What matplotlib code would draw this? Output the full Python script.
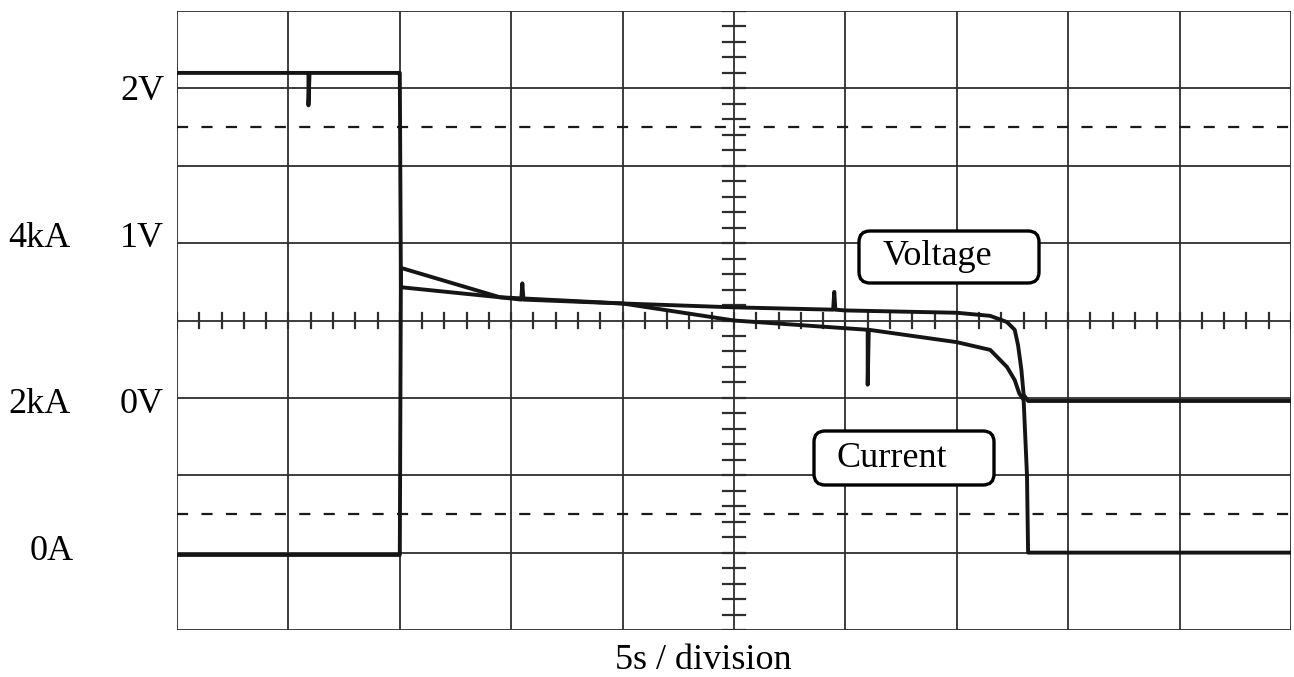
import matplotlib
matplotlib.use("Agg")
import matplotlib.pyplot as plt
from matplotlib.patches import FancyBboxPatch
from matplotlib.transforms import IdentityTransform

# scope settings: 5 s/div, 0.5 V/div (0 V at div 3), 1 kA/div (0 A at div 1)
sec_per_div = 5.0
volt_per_div = 0.5
volt_zero_div = 3.0
ka_per_div = 1.0
amp_zero_div = 1.0

# voltage trace (s, V)
voltage_t = [0.0, 5.85, 5.9, 5.9, 5.95, 9.95, 10.0, 10.05, 14.5, 20.0, 25.0, 29.45, 29.5,
             29.55, 30.0, 35.0, 36.5, 37.25, 37.6, 37.75, 37.9, 38.0, 38.2, 50.0]
voltage_v = [2.10, 2.10, 2.10, 1.89, 2.10, 2.10, 2.10, 0.715, 0.65, 0.61, 0.585, 0.57, 0.685,
             0.57, 0.565, 0.55, 0.53, 0.49, 0.44, 0.34, 0.18, 0.02, -0.02, -0.02]

# current trace (s, kA)
current_t = [0.0, 9.95, 10.0, 10.05, 14.5, 15.45, 15.5, 15.55, 20.0, 25.0, 30.0, 31.0, 31.0,
             31.05, 35.0, 36.5, 37.25, 37.6, 37.8, 38.0, 38.15, 38.2, 50.0]
current_ka = [-0.03, -0.03, -0.03, 3.68, 3.30, 3.27, 3.48, 3.27, 3.22, 3.00, 2.90, 2.88, 2.17,
              2.88, 2.72, 2.62, 2.40, 2.23, 2.06, 1.97, 1.0, 0.0, 0.0]

volt_labels = ["2V", "1V", "0V"]
amp_labels = ["4kA", "2kA", "0A"]

W, H = 1294, 677
fig = plt.figure(figsize=(W / 100, H / 100), dpi=100)
ax = fig.add_axes([177 / W, (H - 630) / H, (1291 - 177) / W, (630 - 11) / H])
ax.set_xlim(0, 10)
ax.set_ylim(0, 8)
ax.axis("off")

grid_col = "#2e2e2e"
for i in range(11):
    ax.axvline(i, color=grid_col, lw=1.3, zorder=1)
for j in range(9):
    ax.axhline(j, color=grid_col, lw=1.3, zorder=1)
# minor ticks on the centre lines
for k in range(51):
    ax.plot([k * 0.2, k * 0.2], [3.9, 4.1], color=grid_col, lw=1.6, zorder=1)
for k in range(41):
    ax.plot([4.9, 5.1], [k * 0.2, k * 0.2], color=grid_col, lw=1.6, zorder=1)
# dashed reference lines
for yd in (1.5, 6.5):
    ax.axhline(yd, color="#1a1a1a", lw=1.6, ls=(0, (5, 6)), zorder=1)

vx = [t / sec_per_div for t in voltage_t]
vy = [volt_zero_div + v / volt_per_div for v in voltage_v]
cx = [t / sec_per_div for t in current_t]
cy = [amp_zero_div + a / ka_per_div for a in current_ka]
ax.plot(vx, vy, color="#151515", lw=2.8, zorder=3, solid_joinstyle="round")
ax.plot(cx, cy, color="#151515", lw=2.8, zorder=3, solid_joinstyle="round")

font = dict(family="Liberation Serif", size=26, color="black")

def ftext(px, py, s, ha="left"):
    fig.text(px / W, 1 - py / H, s, ha=ha, va="baseline", zorder=10, **font)

ftext(164, 100, volt_labels[0], ha="right")
ftext(164, 247, volt_labels[1], ha="right")
ftext(164, 413, volt_labels[2], ha="right")
ftext(8, 247, amp_labels[0])
ftext(8, 413, amp_labels[1])
ftext(30, 560, amp_labels[2])
ftext(703, 669, "5s / division", ha="center")

def label_box(x0, y0, x1, y1):
    box = FancyBboxPatch((x0, H - y1), x1 - x0, y1 - y0,
                         boxstyle="round,pad=0,rounding_size=11",
                         transform=IdentityTransform(), facecolor="white",
                         edgecolor="black", lw=2.4, zorder=5)
    fig.add_artist(box)

label_box(859, 231, 1039, 283)
ftext(883, 265, "Voltage")
label_box(814, 431, 994, 485)
ftext(837, 467, "Current")

fig.savefig("out.png", dpi=100)
